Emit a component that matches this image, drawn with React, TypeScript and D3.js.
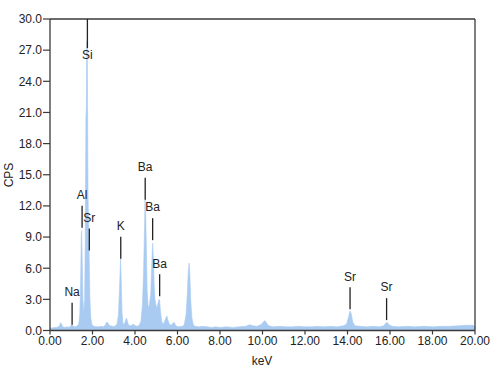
import React from "react";
import * as d3 from "d3";

// spectrum samples: [keV, CPS]
const spectrum: [number, number][] = [
  [0.0, 0.2], [0.1, 0.25], [0.2, 0.3], [0.3, 0.3], [0.4, 0.35], [0.45, 0.5], [0.5, 0.75], [0.55, 0.6],
  [0.6, 0.35], [0.7, 0.3], [0.8, 0.35], [0.9, 0.3], [0.95, 0.4], [1.0, 0.5], [1.04, 0.55], [1.08, 0.45],
  [1.15, 0.35], [1.25, 0.4], [1.35, 0.6], [1.4, 1.5], [1.44, 4.5], [1.47, 9.0], [1.49, 9.6], [1.52, 6.5],
  [1.55, 3.0], [1.59, 1.7], [1.63, 3.0], [1.66, 9.0], [1.69, 20.5], [1.71, 21.4], [1.73, 27.8], [1.755, 27.8],
  [1.77, 21.0], [1.79, 13.0], [1.82, 9.5], [1.85, 6.5], [1.88, 3.0], [1.92, 1.2], [1.97, 0.6],
  [2.05, 0.4], [2.2, 0.35], [2.3, 0.35], [2.4, 0.4], [2.5, 0.35], [2.6, 0.5], [2.66, 0.8], [2.72, 0.75],
  [2.78, 0.5], [2.85, 0.45], [2.95, 0.4], [3.05, 0.4], [3.15, 0.6], [3.22, 1.5], [3.27, 4.0], [3.32, 6.9],
  [3.35, 5.0], [3.39, 1.8], [3.43, 0.7], [3.5, 0.6], [3.56, 1.0], [3.6, 1.2], [3.64, 0.9], [3.7, 0.5],
  [3.8, 0.45], [3.88, 0.55], [3.95, 0.6], [4.0, 0.45], [4.1, 0.4], [4.2, 0.5], [4.28, 0.9], [4.35, 2.5],
  [4.4, 5.5], [4.44, 9.0], [4.47, 12.6], [4.5, 11.5], [4.53, 8.5], [4.57, 4.0], [4.62, 2.2], [4.68, 2.5],
  [4.74, 3.5], [4.79, 6.5], [4.83, 8.4], [4.87, 6.8], [4.9, 4.5], [4.94, 3.0], [4.98, 2.5], [5.03, 2.2],
  [5.08, 2.6], [5.13, 3.0], [5.16, 2.9], [5.2, 1.8], [5.26, 0.9], [5.32, 0.6], [5.38, 0.8], [5.45, 1.2],
  [5.5, 1.4], [5.55, 1.0], [5.62, 0.6], [5.7, 0.5], [5.78, 0.7], [5.84, 0.8], [5.92, 0.45], [6.05, 0.35],
  [6.15, 0.4], [6.25, 0.4], [6.32, 0.6], [6.4, 1.5], [6.46, 3.5], [6.51, 5.8], [6.55, 6.5], [6.58, 5.5],
  [6.62, 3.0], [6.68, 1.2], [6.75, 0.5], [6.85, 0.4], [7.0, 0.35], [7.2, 0.4], [7.4, 0.35], [7.6, 0.3],
  [7.8, 0.35], [8.0, 0.3], [8.3, 0.35], [8.6, 0.3], [8.9, 0.35], [9.2, 0.4], [9.4, 0.55], [9.55, 0.45],
  [9.75, 0.4], [9.95, 0.6], [10.05, 0.85], [10.12, 0.95], [10.2, 0.7], [10.3, 0.45], [10.5, 0.35], [10.8, 0.4],
  [11.1, 0.35], [11.4, 0.35], [11.7, 0.4], [12.0, 0.35], [12.3, 0.35], [12.6, 0.4], [12.9, 0.35], [13.2, 0.4],
  [13.5, 0.35], [13.8, 0.45], [13.95, 0.6], [14.05, 1.3], [14.12, 1.9], [14.18, 1.6], [14.25, 0.8], [14.35, 0.45],
  [14.6, 0.4], [14.9, 0.35], [15.2, 0.4], [15.5, 0.35], [15.7, 0.45], [15.8, 0.7], [15.86, 0.8], [15.95, 0.55],
  [16.1, 0.4], [16.4, 0.35], [16.8, 0.4], [17.2, 0.35], [17.6, 0.4], [18.0, 0.35], [18.4, 0.4], [18.8, 0.4],
  [19.2, 0.45], [19.6, 0.5], [19.9, 0.5], [20.0, 0.4],
];

// element markers: label, keV of the line, CPS at the bottom of the line
const elements = ["Na", "Al", "Si", "Sr", "K", "Ba", "Ba", "Ba", "Sr", "Sr"];
const elementKeV = [1.04, 1.51, 1.76, 1.85, 3.33, 4.48, 4.83, 5.16, 14.12, 15.84];
const elementCps = [0.55, 9.9, 27.2, 7.7, 6.9, 12.6, 8.7, 3.3, 2.05, 1.0];

const xTicks = [0, 2, 4, 6, 8, 10, 12, 14, 16, 18, 20];
const yTicks = [0, 3, 6, 9, 12, 15, 18, 21, 24, 27, 30];

const W = 500;
const H = 366;
const left = 50, right = 475, top = 19, bottom = 330.5;
const FONT = "'Liberation Sans', Arial, Helvetica, sans-serif";
const AXIS = "#3a3a3a";

export default function App() {
  const x = d3.scaleLinear().domain([0, 20]).range([left, right]);
  const y = d3.scaleLinear().domain([0, 30]).range([bottom, top]);

  const area = d3.area<[number, number]>()
    .x(d => x(d[0]))
    .y0(y(0))
    .y1(d => y(d[1]));

  const fx = d3.format(".2f");
  const fy = d3.format(".1f");

  return (
    <div style={{ position: "absolute", left: 0, top: 0 }}>
      <svg width={W} height={H} style={{ display: "block", background: "#fff" }} fontFamily={FONT}>
        <path d={area(spectrum) || ""} fill="#a9cbf1" stroke="#a9cbf1" strokeWidth={0.6} />

        {/* frame */}
        <line x1={left} x2={right} y1={top} y2={top} stroke={AXIS} strokeWidth={1.3} />
        <line x1={right} x2={right} y1={top} y2={bottom} stroke={AXIS} strokeWidth={1.3} />
        <line x1={left} x2={left} y1={top} y2={bottom} stroke={AXIS} strokeWidth={1.3} />
        <line x1={left} x2={right} y1={bottom} y2={bottom} stroke={AXIS} strokeWidth={1.3} />

        {yTicks.map(t => (
          <g key={"y" + t}>
            <line x1={left - 7} x2={left} y1={y(t)} y2={y(t)} stroke={AXIS} strokeWidth={1.2} />
            <text x={left - 8} y={y(t)} dy="0.36em" textAnchor="end" fontSize={12} fill="#222">
              {fy(t)}
            </text>
          </g>
        ))}
        {xTicks.map(t => (
          <g key={"x" + t}>
            <line x1={x(t)} x2={x(t)} y1={bottom} y2={bottom + 4} stroke={AXIS} strokeWidth={1.2} />
            <text x={x(t)} y={bottom + 14.5} textAnchor="middle" fontSize={12} fill="#222">
              {fx(t)}
            </text>
          </g>
        ))}

        <text x={262} y={364.5} textAnchor="middle" fontSize={12} fill="#222">keV</text>
        <text transform="translate(12.5,175) rotate(-90)" textAnchor="middle" fontSize={12} fill="#222">CPS</text>

        {elements.map((el, i) => {
          const xb = x(elementKeV[i]);
          const yb = y(elementCps[i]);
          let yt = yb - 22;
          let ty = yt - 11;
          if (ty < top) {
            // no room above: line hangs from the frame and the label sits under it
            yt = top;
            ty = yb + 7;
          }
          return (
            <g key={"m" + i}>
              <line x1={xb} x2={xb} y1={yt} y2={yb} stroke="#222" strokeWidth={1.3} />
              <text x={xb} y={ty} dy="0.36em" textAnchor="middle" fontSize={12} fill="#222">{el}</text>
            </g>
          );
        })}
      </svg>
    </div>
  );
}
